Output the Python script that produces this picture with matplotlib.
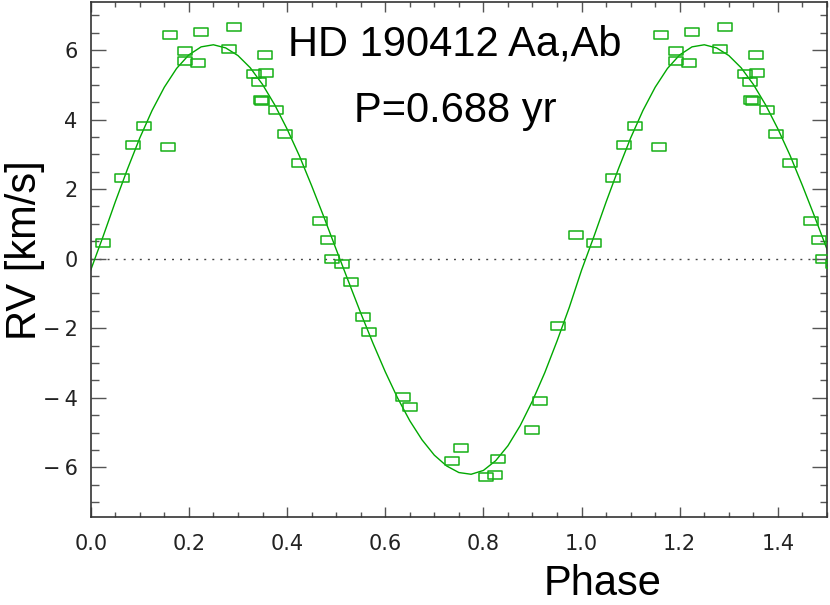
import numpy as np
import matplotlib
matplotlib.use('Agg')
from matplotlib import pyplot as plt
from matplotlib.path import Path
from matplotlib.ticker import MultipleLocator

# measured radial velocities, one orbital cycle (phase 0..1)
obs_phase = [0.026, 0.064, 0.087, 0.109, 0.157, 0.161, 0.193, 0.192, 0.218, 0.225,
             0.281, 0.292, 0.332, 0.343, 0.356, 0.357, 0.346, 0.349, 0.377, 0.396,
             0.424, 0.468, 0.484, 0.492, 0.512, 0.530, 0.555, 0.567, 0.637, 0.650,
             0.737, 0.754, 0.805, 0.824, 0.830, 0.900, 0.916, 0.951, 0.989]
obs_rv = [0.46, 2.33, 3.26, 3.82, 3.21, 6.44, 5.98, 5.67, 5.63, 6.51,
          6.04, 6.67, 5.31, 5.07, 5.86, 5.35, 4.56, 4.53, 4.28, 3.58,
          2.74, 1.07, 0.53, -0.01, -0.15, -0.68, -1.68, -2.12, -3.97, -4.27,
          -5.81, -5.44, -6.27, -6.21, -5.76, -4.92, -4.08, -1.94, 0.69]

# orbit fit
fit_phase = [0.000, 0.025, 0.050, 0.075, 0.100, 0.125, 0.150, 0.175, 0.200, 0.225,
             0.250, 0.275, 0.300, 0.325, 0.350, 0.375, 0.400, 0.425, 0.450, 0.475,
             0.500, 0.525, 0.550, 0.575, 0.600, 0.625, 0.650, 0.675, 0.700, 0.725,
             0.750, 0.775, 0.800, 0.825, 0.850, 0.875, 0.900, 0.925, 0.950, 0.975,
             1.000]
fit_rv = [-0.33, 0.63, 1.63, 2.58, 3.47, 4.26, 4.93, 5.47, 5.86, 6.09,
          6.15, 6.06, 5.84, 5.49, 5.01, 4.42, 3.73, 2.96, 2.10, 1.20,
          0.27, -0.65, -1.56, -2.43, -3.25, -4.00, -4.66, -5.21, -5.65, -5.96,
          -6.15, -6.20, -6.09, -5.81, -5.38, -4.80, -4.09, -3.28, -2.37, -1.40,
          -0.33]

title_lines = ['HD 190412 Aa,Ab', 'P=0.688 yr']
green = '#16b016'


def tick_fmt(v, pos):
    s = '%g' % round(v, 1) if abs(v) >= 1e-9 else '0'
    return s.replace('-', '\u2212\u2009')


def main():
    fig = plt.figure(figsize=(8.3, 6.05), dpi=100)
    ax = fig.add_axes([90.7 / 830, 1 - 516.7 / 605, 736.3 / 830, 514.7 / 605])

    p = np.array(obs_phase)
    v = np.array(obs_rv)
    fp = np.array(fit_phase)
    fv = np.array(fit_rv)

    # open rectangles, wider than tall
    box = Path([(-1, -0.66), (1, -0.66), (1, 0.66), (-1, 0.66), (-1, -0.66)],
               [Path.MOVETO, Path.LINETO, Path.LINETO, Path.LINETO, Path.CLOSEPOLY])

    ax.axhline(0, color='#444444', lw=1.0, ls=(0, (1.4, 4.4)), zorder=1)
    ax.plot(np.concatenate([fp, fp[1:] + 1]), np.concatenate([fv, fv[1:]]),
            color='#00a800', lw=1.0, zorder=2)
    ax.plot(np.concatenate([p, p + 1]), np.concatenate([v, v]), ls='none',
            marker=box, ms=9.8, mfc='none', mec=green, mew=1.1, zorder=3)

    ax.set_xlim(0, 1.5)
    ax.set_ylim(-7.42, 7.38)
    ax.xaxis.set_major_locator(MultipleLocator(0.2))
    ax.xaxis.set_minor_locator(MultipleLocator(0.05))
    ax.yaxis.set_major_locator(MultipleLocator(2))
    ax.yaxis.set_minor_locator(MultipleLocator(0.5))
    ax.xaxis.set_major_formatter(lambda x, pos: '%.1f' % x)
    ax.yaxis.set_major_formatter(tick_fmt)

    ax.tick_params(which='both', direction='in', top=True, right=True,
                   color='#555555', width=1.0, labelcolor='#222222', labelsize=15)
    ax.tick_params(axis='x', which='major', length=7.2, pad=12.5)
    ax.tick_params(axis='x', which='minor', length=3.6)
    ax.tick_params(axis='y', which='major', length=10.5, pad=9.5)
    ax.tick_params(axis='y', which='minor', length=5.4)
    for sp in ax.spines.values():
        sp.set_color('#333333')
        sp.set_linewidth(1.2)

    big = dict(family='Liberation Sans', fontsize=30, color='black')
    ax.text(0.495, 0.897, title_lines[0], transform=ax.transAxes,
            ha='center', va='baseline', **big)
    ax.text(0.495, 0.7675, title_lines[1], transform=ax.transAxes,
            ha='center', va='baseline', **big)

    # kept just inside the bottom edge
    fig.text(602.5 / 830, 1 / 605, 'Phase', ha='center', va='bottom', **big)
    fig.text(36 / 830, 1 - 250 / 605, 'RV [km/s]', rotation=90,
             rotation_mode='anchor', ha='center', va='baseline', **big)

    fig.savefig('out.png', dpi=100)


if __name__ == '__main__':
    main()
